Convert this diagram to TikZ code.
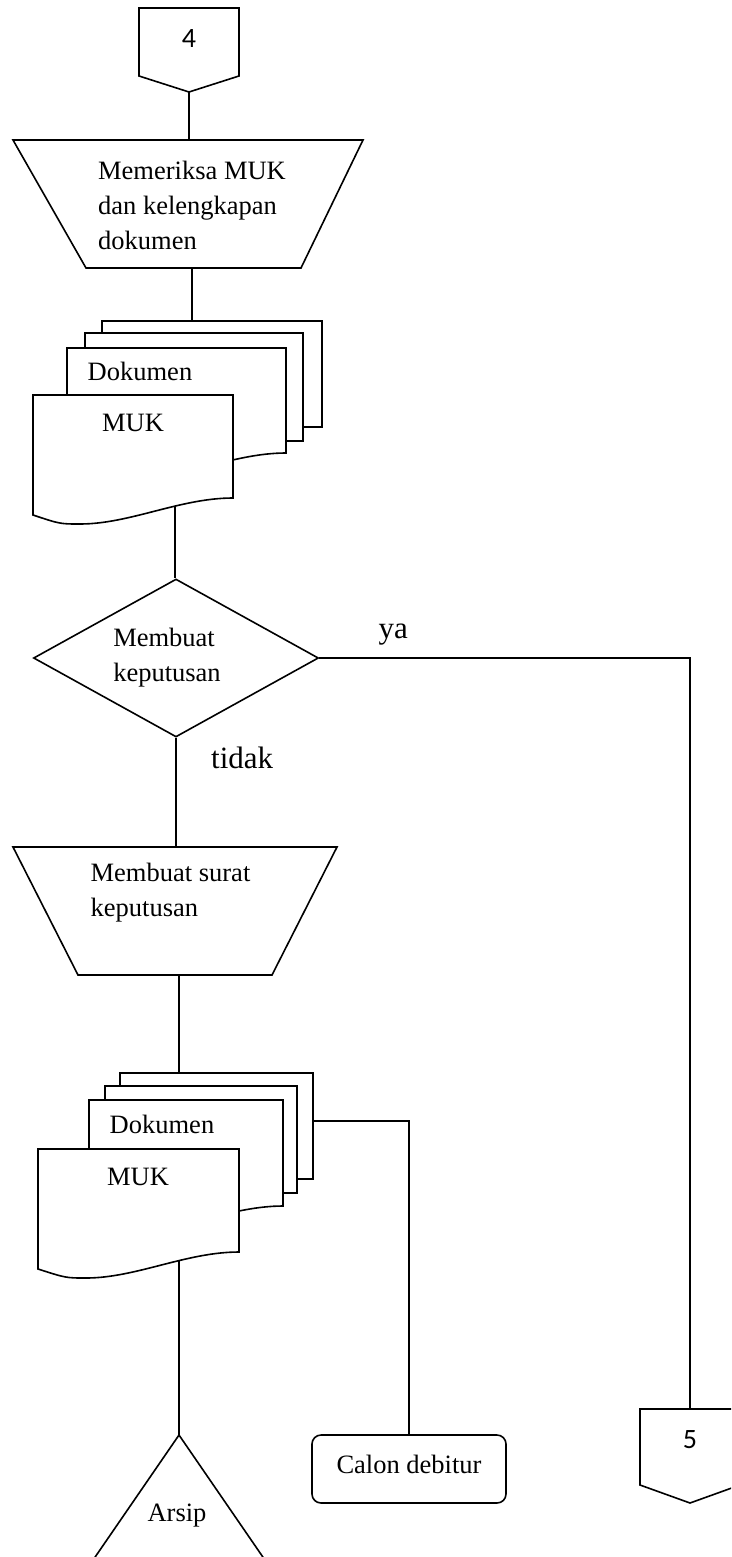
\documentclass[tikz,border=0pt]{standalone}
\usepackage{fontspec}
\setmainfont{Liberation Serif}
\newfontfamily\digitfont{Carlito}
\usetikzlibrary{shapes.geometric,positioning}

\tikzset{
    flow/.style={line width=1.6pt},
    sheet/.style={draw, line width=1.6pt, fill=white},
    txt/.style={font=\fontsize{26.5}{35}\selectfont, inner sep=2pt},
    lbl/.style={font=\fontsize{31}{37}\selectfont, inner sep=0pt},
    digit/.style={font=\digitfont\fontsize{28}{34}\selectfont, inner sep=0pt}
}

\begin{document}
\begin{tikzpicture}[x=1pt, y=-1pt]
    \useasboundingbox (0,0) rectangle (731,1557);
    \clip (0,0) rectangle (731,1557);

    \node[digit] (c4) at (189,39) {4};
    \draw[flow] (c4.center) ++(-50,-31) -- ++(100,0) -- ++(0,68) -- ++(-50,16) coordinate (c4tip) -- ++(-50,-16) -- cycle;

    \draw[flow] (13,140) coordinate (t1nw) -- (363,140) -- (301,268) -- (86,268) coordinate (t1sw) -- cycle;
    \node[txt, align=left] (t1) at (192,205) {Memeriksa MUK\\dan kelengkapan\\dokumen};
    \draw[flow] (c4tip) -- (c4tip |- t1nw);

    \node[sheet, minimum width=220pt, minimum height=106pt] (d1a) at (212,374) {};
    \node[sheet, minimum width=218pt, minimum height=108pt] (d1b) at (194,387) {};
    \draw[sheet] (67,348) -- (286,348) -- (286,453) .. controls (233,453) and (183,479) .. (133,479)
        .. controls (113,479) .. (67,470) -- cycle;
    \draw[sheet] (33,395) -- (233,395) -- (233,498) .. controls (180,498) and (130,524) .. coordinate[pos=0.37] (d1out) (80,524)
        .. controls (60,524) .. (33,515) -- cycle;
    \node[txt] (dok1) at (140,371) {Dokumen};
    \node[txt] (muk1) at (133,423) {MUK};
    \draw[flow] (t1.south |- t1sw) -- (t1.south |- d1a.north);

    \node[diamond, draw, txt, line width=1.6pt, minimum width=285pt, minimum height=158pt, aspect=1.8,
        inner sep=0pt, align=left] (dec) at (176,658) {Membuat\\keputusan\hspace*{18pt}};
    \draw[flow] (d1out) -- (d1out |- dec.north);
    \node[lbl, above right=13pt and 59pt of dec.east] (ya) {ya};
    \node[lbl, below right=9pt and 35pt of dec.south] (tidak) {tidak};

    \draw[flow] (13,847) coordinate (t2nw) -- (337,847) -- (272,975) -- (78,975) coordinate (t2sw) -- cycle;
    \node[txt, align=left] (t2) at (170.5,892.5) {Membuat surat\\keputusan};
    \draw[flow] (dec.south) -- (dec.south |- t2nw);

    \node[sheet, minimum width=193pt, minimum height=106pt] (d2a) at (216.5,1126) {};
    \node[sheet, minimum width=192pt, minimum height=107pt] (d2b) at (201,1139.5) {};
    \draw[sheet] (89,1100) -- (283,1100) -- (283,1206) .. controls (230,1206) and (180,1232) .. (130,1232)
        .. controls (110,1232) .. (89,1223) -- cycle;
    \draw[sheet] (38,1149) -- (239,1149) -- (239,1252) .. controls (186,1252) and (136,1278) .. coordinate[pos=0.37] (d2out) (86,1278)
        .. controls (66,1278) .. (38,1269) -- cycle;
    \node[txt] (dok2) at (162,1124) {Dokumen};
    \node[txt] (muk2) at (138,1177) {MUK};

    \node[txt, draw, line width=1.6pt, rounded corners=9pt, minimum width=194pt, minimum height=68pt,
        text depth=10pt] (calon) at (409,1469) {Calon debitur};
    \draw[flow] ([yshift=5pt]d2a.east) -| (calon.north);

    \node[txt, inner sep=0pt] (arsip) at (177,1516) {Arsip};
    \draw[flow] (arsip.center) ++(2,-81) coordinate (apex) -- ++(-110,160);
    \draw[flow] (apex) -- ++(110,160);
    \draw[flow] (apex |- d2out) -- (apex);
    \draw[flow] (apex |- t2sw) -- (apex |- d2a.north);

    \node[digit] (c5) at (690,1440) {5};
    \coordinate (c5top) at ([yshift=31pt]c5.center);
    \draw[flow] (c5top) -- ++(50,0) -- ++(0,76) -- ++(-50,18) -- ++(-50,-18) -- ++(0,-76) -- cycle;
    \draw[flow] (dec.east) -| (c5top);
\end{tikzpicture}
\end{document}
